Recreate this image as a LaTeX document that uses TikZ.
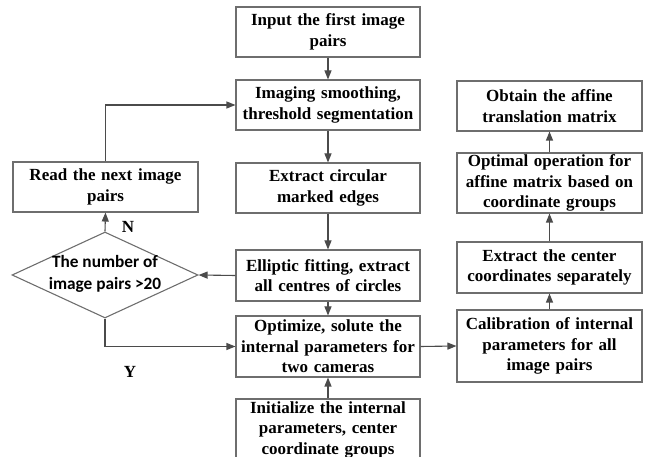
\documentclass[tikz,border=0pt]{standalone}
\usepackage{fontspec}
\setmainfont{Liberation Serif}
\newfontfamily\calibri{Carlito}
\usetikzlibrary{shapes.geometric, arrows.meta, positioning}
\definecolor{boxgray}{RGB}{110, 110, 110}
\definecolor{linegray}{RGB}{75, 75, 75}

\begin{document}
\begin{tikzpicture}[
  x=1pt, y=-1pt,
  pbox/.style={draw=boxgray, line width=1.1pt, text width=180pt, align=center, inner sep=0pt,
    minimum width=184pt, font=\fontsize{17}{20.5}\selectfont\bfseries},
  decision/.style={draw=boxgray, line width=1.1pt, diamond, inner sep=0pt, minimum width=186pt, minimum height=86pt},
  dtext/.style={align=center, font=\calibri\fontsize{17.3}{22}\selectfont\bfseries},
  flow/.style={draw=linegray, line width=1.1pt, -{Triangle[length=9pt, width=7pt]}},
  yn/.style={font=\fontsize{17}{20}\selectfont\bfseries}
]
  \useasboundingbox (0,0) rectangle (654,457);
  % centre column
  \node[pbox, minimum height=50pt] (input) at (328, 32) {Input the first image\\pairs};
  \node[pbox, minimum height=50pt] (smooth) at (328, 105) {Imaging smoothing,\\threshold segmentation};
  \node[pbox, minimum height=50pt] (edges) at (328, 188) {Extract circular\\marked edges};
  \node[pbox, minimum height=51pt] (fit) at (328, 275.5) {Elliptic fitting, extract\\all centres of circles};
  \node[pbox, minimum height=61pt] (optim) at (328, 346.5) {Optimize, solute the\\internal parameters for\\two cameras};
  \node[pbox, minimum height=61pt] (init) at (328, 429.5) {Initialize the internal\\parameters, center\\coordinate groups};
  % left column
  \node[pbox, minimum width=185pt, minimum height=50pt] (read) at (105.5, 187) {Read the next image\\pairs};
  \node[decision] (cond) at (105, 275) {};
  \node[dtext] (condtext) at (105, 274) {The number of\\image pairs >20};
  % right column
  \node[pbox, minimum width=185pt, minimum height=50pt] (affine) at (549.5, 106) {Obtain the affine\\translation matrix};
  \node[pbox, minimum width=185pt, minimum height=60pt] (oper) at (549.5, 183) {Optimal operation for\\affine matrix based on\\coordinate groups};
  \node[pbox, minimum width=185pt, minimum height=51pt] (centre) at (549.5, 267.5) {Extract the center\\coordinates separately};
  \node[pbox, minimum width=185pt, minimum height=72pt] (calib) at (549.5, 346) {Calibration of internal\\parameters for all\\image pairs};
  % connectors
  \draw[flow] (input) -- (smooth);
  \draw[flow] (smooth) -- (edges);
  \draw[flow] (edges) -- (fit);
  \draw[flow] (fit) -- (optim);
  \draw[flow] (init) -- (optim);
  \draw[flow] (fit.west) -- (cond.east);
  \draw[flow] (cond.north) -- (read.south);
  \draw[flow] (read.north) |- (smooth.west);
  \draw[flow] (cond.south) |- (optim.west);
  \draw[flow] (optim.east) -- (calib.west);
  \draw[flow] (calib) -- (centre);
  \draw[flow] (centre) -- (oper);
  \draw[flow] (oper) -- (affine);
  \node[yn] (no) at (128, 227) {N};
  \node[yn] (yes) at (130, 372) {Y};
\end{tikzpicture}
\end{document}
